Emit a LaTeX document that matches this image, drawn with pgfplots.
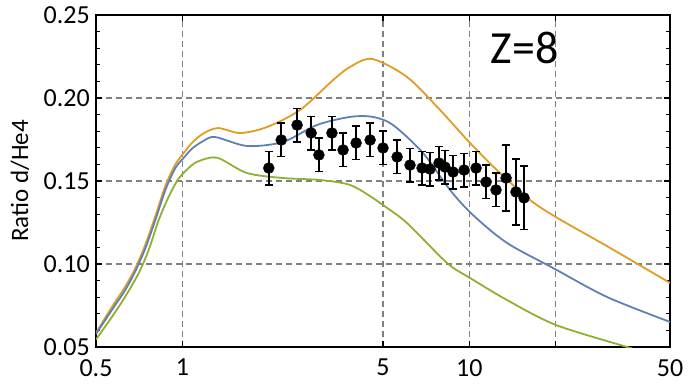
\documentclass[border=0pt]{standalone}
\usepackage{fontspec}
\setmainfont{Carlito}
\usepackage{pgfplots}
\pgfplotsset{compat=1.18}
\definecolor{mblue}{HTML}{5E81B5}
\definecolor{morange}{HTML}{E19C24}
\definecolor{mgreen}{HTML}{8FB032}
\begin{document}
\begin{tikzpicture}
\path[use as bounding box] (-96pt,-38pt) rectangle (596pt,347pt);
\begin{axis}[
  at={(0,0)}, anchor=south west,
  scale only axis, width=574pt, height=332pt,
  xmode=log, xmin=0.5, xmax=50, ymin=0.05, ymax=0.25,
  xtick={0.5,1,5,10,50}, xticklabels={0.5,1,5,10,50},
  ytick={0.05,0.10,0.15,0.20,0.25},
  yticklabels={0.05,0.10,0.15,0.20,0.25},
  minor y tick num=4,
  extra x ticks={1,5,10,20}, extra x tick labels={},
  extra x tick style={grid=major},
  ymajorgrids,
  major grid style={gray, line width=1.2pt, dash pattern=on 6pt off 4pt},
  tick align=inside, tick pos=both,
  major tick length=6pt, minor tick length=4pt,
  every tick/.style={black, line width=1.2pt},
  axis line style={line width=2pt},
  /pgf/number format/assume math mode=true,
  tick label style={font=\fontsize{26}{26}\selectfont},
  xticklabel style={inner sep=1pt, yshift=-11pt},
  yticklabel style={inner sep=1pt, xshift=-5pt},
  ylabel={Ratio d/He4},
  ylabel style={font=\fontsize{25}{25}\selectfont, at={(axis description cs:-0.1324,0.5)}, anchor=center},
  clip=true,
]
\addplot[morange, line width=1.8pt, smooth] coordinates {
(0.5,0.0585)(0.569,0.0743)(0.632,0.0863)(0.685,0.0974)(0.742,0.1114)(0.804,0.1285)
(0.872,0.1470)(0.945,0.1600)(1.023,0.1680)(1.080,0.1730)(1.18,0.1785)(1.33,0.1819)
(1.59,0.1789)(1.97,0.1825)
(2.57,0.1928)(3.35,0.2108)(3.84,0.2187)(4.58,0.2235)(6.06,0.2127)(7.90,0.1928)
(10.05,0.1729)(12.78,0.1548)(16.26,0.1386)(20.0,0.1283)(30.2,0.1107)(50,0.0886)};
\addplot[mblue, line width=1.8pt, smooth] coordinates {
(0.5,0.0578)(0.569,0.0725)(0.632,0.0843)(0.685,0.0955)(0.742,0.1092)(0.804,0.1262)
(0.872,0.1445)(0.945,0.1578)(1.023,0.1650)(1.080,0.1695)(1.18,0.1740)(1.30,0.1765)
(1.68,0.1711)(2.24,0.1735)(2.94,0.1837)
(3.84,0.1886)(4.61,0.1886)(5.42,0.1837)(6.89,0.1669)(8.56,0.1446)(10.29,0.1295)
(13.52,0.1127)(19.56,0.0976)(30.2,0.0801)(50,0.0651)};
\addplot[mgreen, line width=1.8pt, smooth] coordinates {
(0.5,0.0545)(0.569,0.0683)(0.632,0.0803)(0.704,0.0944)(0.763,0.1084)(0.827,0.1265)
(0.896,0.1405)(0.971,0.1515)(1.080,0.1596)(1.17,0.1627)(1.33,0.1639)(1.68,0.1548)
(2.24,0.1518)(3.02,0.1506)
(3.84,0.1476)(4.61,0.1398)(5.0,0.1355)(6.06,0.1247)(8.36,0.1006)(10.05,0.0916)
(13.52,0.0783)(20.0,0.0633)(35.4,0.0500)(40,0.0470)};
\addplot[black, only marks, mark=*, mark size=5.5pt,
  error bars/.cd, y dir=both, y explicit,
  error bar style={line width=1.8pt, black},
  error mark options={rotate=90, line width=1.8pt, mark size=4pt, black}]
coordinates {
(2.00,0.1578) +- (0,0.010)
(2.21,0.1747) +- (0,0.010)
(2.51,0.1837) +- (0,0.010)
(2.81,0.1789) +- (0,0.010)
(2.99,0.1657) +- (0,0.010)
(3.32,0.1789) +- (0,0.010)
(3.63,0.1687) +- (0,0.010)
(4.03,0.1729) +- (0,0.010)
(4.51,0.1747) +- (0,0.010)
(5.00,0.1699) +- (0,0.010)
(5.60,0.1645) +- (0,0.010)
(6.21,0.1596) +- (0,0.010)
(6.84,0.1578) +- (0,0.010)
(7.29,0.1572) +- (0,0.010)
(7.84,0.1608) +- (0,0.010)
(8.22,0.1584) +- (0,0.010)
(8.77,0.1554) +- (0,0.010)
(9.58,0.1566) +- (0,0.010)
(10.55,0.1578) +- (0,0.010)
(11.43,0.1494) +- (0,0.010)
(12.38,0.1446) +- (0,0.010)
(13.42,0.1518) +- (0,0.020)
(14.53,0.1434) +- (0,0.020)
(15.50,0.1398) +- (0,0.019)
};
\node[font=\fontsize{46}{46}\selectfont] at (rel axis cs:0.747,0.9006) {Z=8};
\end{axis}
\end{tikzpicture}
\end{document}
